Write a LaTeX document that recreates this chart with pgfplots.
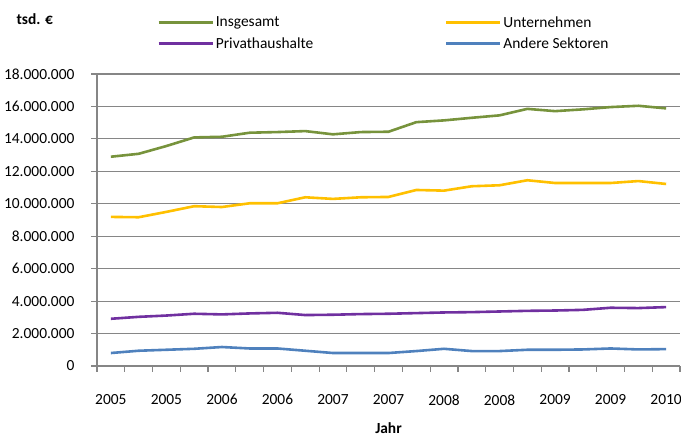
\documentclass[border=0pt]{standalone}
\usepackage{pgfplots}
\pgfplotsset{compat=1.18}
\usepackage{fontspec}
\setmainfont{Carlito}
\definecolor{cgreen}{RGB}{119,147,60}
\definecolor{cyellow}{RGB}{255,192,0}
\definecolor{cpurple}{RGB}{112,48,160}
\definecolor{cblue}{RGB}{79,129,189}
\definecolor{cgrid}{RGB}{134,134,134}
\begin{document}
\begin{tikzpicture}[x=1bp,y=1bp]
\path[use as bounding box] (0,0) rectangle (681,437);
\begin{axis}[
  at={(97bp,71bp)}, anchor=south west, scale only axis,
  width=583bp, height=292bp,
  xmin=-0.5, xmax=20.5, ymin=0, ymax=18000000,
  axis x line*=bottom, axis y line*=left,
  axis line style={cgrid, line width=1.2bp},
  tick align=outside,
  xtick={0,2,4,6,8,10,12,14,16,18,20},
  xticklabels={2005,2005,2006,2006,2007,2007,2008,2008,2009,2009,2010},
  minor xtick={-0.5,0.5,1.5,2.5,3.5,4.5,5.5,6.5,7.5,8.5,9.5,10.5,11.5,12.5,13.5,14.5,15.5,16.5,17.5,18.5,19.5,20.5},
  major x tick style={draw=none},
  minor tick length=6bp, major tick length=6bp,
  every tick/.style={cgrid, line width=1.2bp},
  ytick={0,2000000,4000000,6000000,8000000,10000000,12000000,14000000,16000000,18000000},
  yticklabels={0,2.000.000,4.000.000,6.000.000,8.000.000,10.000.000,12.000.000,14.000.000,16.000.000,18.000.000},
  scaled y ticks=false,
  ymajorgrids,
  major grid style={cgrid, line width=1.2bp},
  tick label style={font=\fontsize{15.5}{18}\selectfont},
  yticklabel style={xshift=-13bp},
  xticklabel style={yshift=-19bp},
  xlabel={Jahr},
  xlabel style={font=\fontsize{15.5}{18}\selectfont\bfseries, inner sep=0pt, at={(axis description cs:0.5,0)}, anchor=center, yshift=-62bp},
  ylabel={tsd. €},
  ylabel style={font=\fontsize{15.5}{18}\selectfont\bfseries, rotate=-90, at={(axis description cs:0,1)}, anchor=west, xshift=-84bp, yshift=55bp},
  legend columns=2,
  legend style={draw=none, fill=none, at={(axis description cs:0.103,1.205)}, anchor=north west,
    font=\fontsize{15.5}{18}\selectfont, column sep=0pt, row sep=5bp, inner sep=0pt},
  legend cell align=left,
  legend image code/.code={\draw[#1] (0bp,0bp) -- (54bp,0bp);},
  every axis plot/.append style={line width=2.6bp},
]
\addplot[cgreen] coordinates {
(0,12900000) (1,13080000) (2,13560000) (3,14090000) (4,14130000) (5,14380000) (6,14420000) (7,14480000) (8,14280000) (9,14420000) (10,14440000)
(11,15030000) (12,15140000) (13,15300000) (14,15450000) (15,15850000) (16,15710000) (17,15820000) (18,15960000) (19,16040000) (20,15880000)};
\addlegendentry{\makebox[227bp][l]{Insgesamt}}
\addplot[cyellow] coordinates {
(0,9190000) (1,9170000) (2,9500000) (3,9850000) (4,9800000) (5,10030000) (6,10030000) (7,10400000) (8,10300000) (9,10400000) (10,10420000)
(11,10850000) (12,10810000) (13,11080000) (14,11140000) (15,11450000) (16,11280000) (17,11280000) (18,11280000) (19,11400000) (20,11220000)};
\addlegendentry{Unternehmen}
\addplot[cpurple] coordinates {
(0,2910000) (1,3030000) (2,3110000) (3,3220000) (4,3180000) (5,3240000) (6,3280000) (7,3140000) (8,3160000) (9,3200000) (10,3220000)
(11,3260000) (12,3300000) (13,3320000) (14,3360000) (15,3400000) (16,3420000) (17,3460000) (18,3590000) (19,3570000) (20,3630000)};
\addlegendentry{\makebox[227bp][l]{Privathaushalte}}
\addplot[cblue] coordinates {
(0,800000) (1,940000) (2,1000000) (3,1060000) (4,1170000) (5,1080000) (6,1080000) (7,940000) (8,800000) (9,800000) (10,800000)
(11,920000) (12,1060000) (13,920000) (14,920000) (15,1000000) (16,1000000) (17,1020000) (18,1080000) (19,1020000) (20,1040000)};
\addlegendentry{Andere Sektoren}
\end{axis}
\end{tikzpicture}
\end{document}
